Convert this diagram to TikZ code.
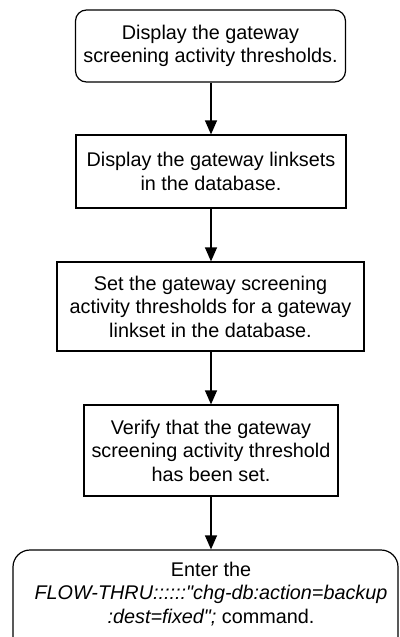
\documentclass[tikz,border=0pt]{standalone}
\usepackage{fontspec}
\setmainfont{Liberation Sans}
\usetikzlibrary{arrows.meta}
\begin{document}
\begin{tikzpicture}[x=1pt,y=-1pt,
  every node/.style={font=\fontsize{19.8}{23.5}\selectfont, align=center, inner sep=0pt},
  roundbox/.style={draw, line width=1.2pt, rounded corners=11pt},
  sqbox/.style={draw, line width=1.2pt},
  flow/.style={line width=1.2pt, -{Triangle[width=12pt,length=14pt]}}]
\useasboundingbox (0,0) rectangle (399,637);
\begin{scope}
\clip (0,0) rectangle (399,637);
\node[roundbox, minimum width=270pt, minimum height=72pt] (n1) at (210.5,46)
  {Display the gateway\\screening activity thresholds.};
\node[sqbox, minimum width=270pt, minimum height=73pt] (n2) at (211,171.5)
  {Display the gateway linksets\\in the database.};
\node[sqbox, minimum width=307pt, minimum height=89pt] (n3) at (210.5,306.5)
  {Set the gateway screening\\activity thresholds for a gateway\\linkset in the database.};
\node[sqbox, minimum width=254pt, minimum height=91pt] (n4) at (211,450.5)
  {Verify that the gateway\\screening activity threshold\\has been set.};
\node[roundbox, rounded corners=17pt, minimum width=385pt, minimum height=110pt] (n5) at (205.5,605) {};
\node (n5t) at (211,594)
  {Enter the\\\textit{FLOW-THRU::::::\textquotedbl chg-db:action=backup}\\\textit{:dest=fixed\textquotedbl;} command.};
\draw[flow] (n1.south -| n2.north) -- (n2.north);
\draw[flow] (n2.south) -- (n2.south |- n3.north);
\draw[flow] (n3.south -| n4.north) -- (n4.north);
\draw[flow] (n4.south) -- (n4.south |- n5.north);
\end{scope}
\end{tikzpicture}
\end{document}
